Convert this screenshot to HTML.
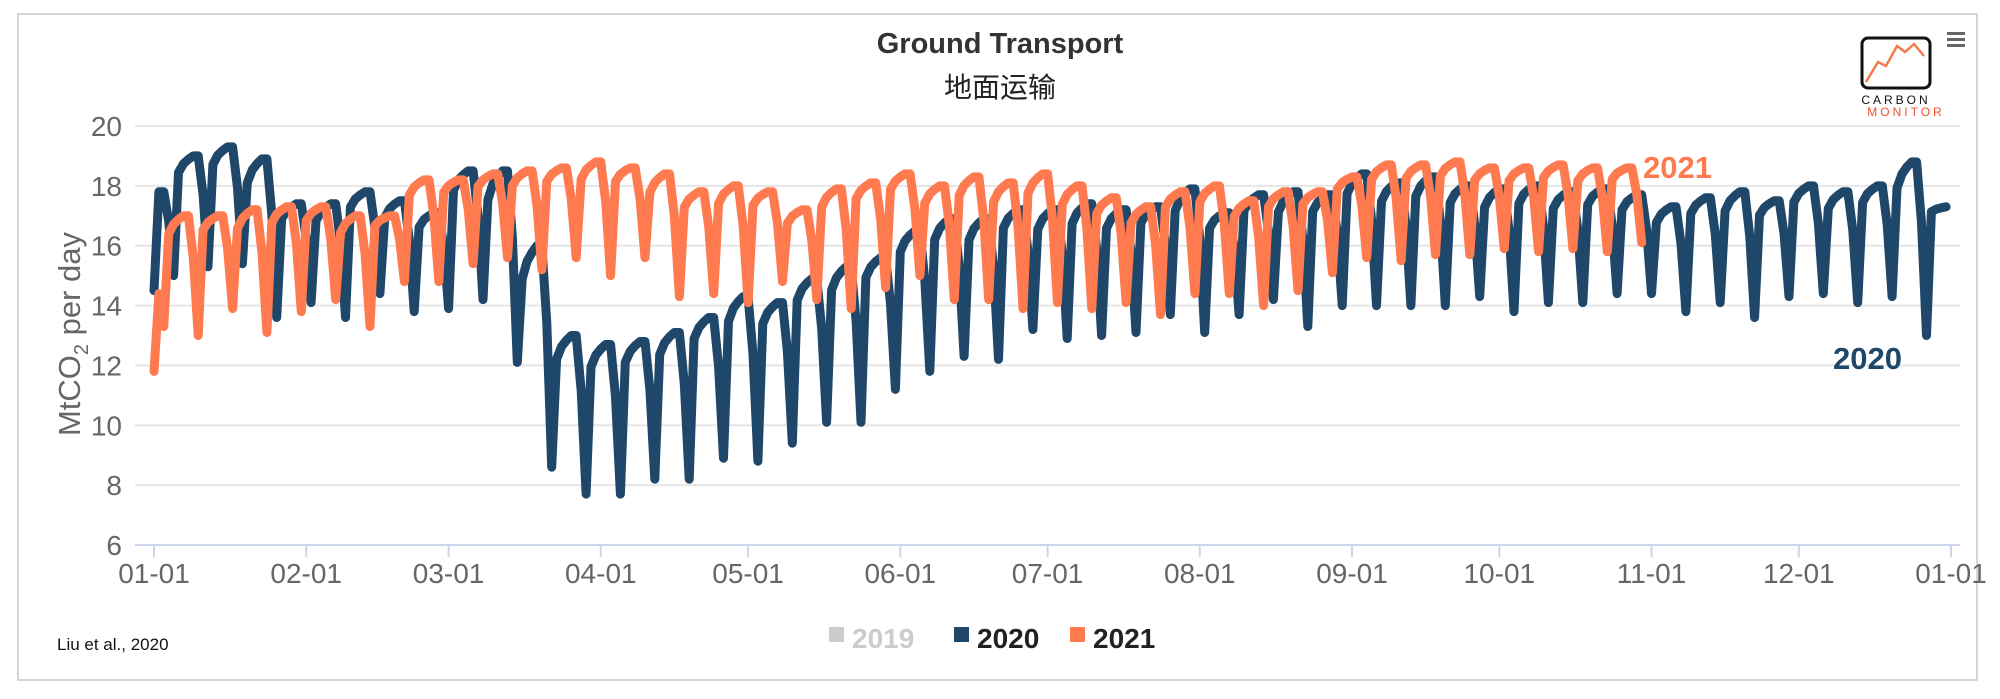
<!DOCTYPE html>
<html><head><meta charset="utf-8"><style>
html,body{margin:0;padding:0;background:#fff;}
body{width:2000px;height:694px;overflow:hidden;font-family:"Liberation Sans","Noto Sans CJK SC",sans-serif;}
</style></head><body>
<svg id="chart" width="2000" height="694" xmlns="http://www.w3.org/2000/svg" font-family="Liberation Sans, Noto Sans CJK SC, sans-serif">
<rect x="18" y="14" width="1959" height="666" fill="#fff" stroke="#d6d6d6" stroke-width="2"/>
<text x="1000" y="53" text-anchor="middle" font-size="29" font-weight="bold" fill="#333">Ground Transport</text>
<text x="1000" y="97" text-anchor="middle" font-size="28" fill="#222" font-family="Noto Sans CJK SC, sans-serif">地面运输</text>
<g>
<rect x="1862" y="38" width="68" height="50" rx="6" fill="#fff" stroke="#111" stroke-width="3"/>
<polyline points="1866,82 1878,62 1886,66 1897,46 1905,52 1914,44 1924,56" fill="none" stroke="#f47a4e" stroke-width="2.5"/>
<text x="1896" y="104" text-anchor="middle" font-size="12" letter-spacing="3" fill="#111">CARBON</text>
<text x="1906" y="116" text-anchor="middle" font-size="12" letter-spacing="3" fill="#f0502a">MONITOR</text>
</g>
<g fill="#666">
<rect x="1947" y="32" width="18" height="3"/><rect x="1947" y="38" width="18" height="3"/><rect x="1947" y="44" width="18" height="3"/>
</g>
<g id="grid"></g>
<g id="yaxis"></g>
<g id="xaxis"></g>
<text transform="translate(80,334) rotate(-90)" text-anchor="middle" font-size="31" fill="#666">MtCO<tspan font-size="20" dy="8">2</tspan><tspan dy="-8"> per day</tspan></text>
<g id="series"></g>
<text x="1643" y="178" font-size="31" font-weight="bold" fill="#ff7a4e">2021</text>
<text x="1833" y="369" font-size="31" font-weight="bold" fill="#1f4769">2020</text>
<text x="57" y="650" font-size="17" fill="#111">Liu et al., 2020</text>
<g>
<g><rect x="829" y="627" width="15" height="15" fill="#ccc"/><text x="852" y="648" font-size="28" font-weight="bold" fill="#ccc">2019</text></g>
<g><rect x="954" y="627" width="15" height="15" fill="#1f4769"/><text x="977" y="648" font-size="28" font-weight="bold" fill="#222">2020</text></g>
<g><rect x="1070" y="627" width="15" height="15" fill="#ff7a4e"/><text x="1093" y="648" font-size="28" font-weight="bold" fill="#222">2021</text></g>
</g>
</svg>
<script>
const yTicks = [6, 8, 10, 12, 14, 16, 18, 20];
const xTickLabels = ["01-01","02-01","03-01","04-01","05-01","06-01","07-01","08-01","09-01","10-01","11-01","12-01","01-01"];
const xTickDays = [0,31,60,91,121,152,182,213,244,274,305,335,366];
// 2020 weekly weekday level and Sunday low (weeks end on Sunday, first Sunday = day 4)
const hi2020 = [17.8,19.0,19.3,18.9,17.4,17.4,17.8,17.5,17.1,18.5,18.5,16.0,13.0,12.7,12.8,13.1,13.6,14.3,14.1,14.9,15.3,15.6,16.5,16.9,16.9,17.2,17.2,17.4,17.2,17.3,17.9,17.1,17.7,17.8,17.7,18.4,18.1,18.3,18.0,17.9,18.0,17.8,17.9,17.7,17.3,17.6,17.8,17.5,18.0,17.8,18.0,18.8,17.3];
const lo2020 = [15.0,15.3,15.4,13.6,14.1,13.6,14.4,13.8,13.9,14.2,12.1,8.6,7.7,7.7,8.2,8.2,8.9,8.8,9.4,10.1,10.1,11.2,11.8,12.3,12.2,13.2,12.9,13.0,13.1,13.7,13.1,13.7,14.2,13.3,14.0,14.0,14.0,14.0,14.3,13.8,14.1,14.1,14.4,14.4,13.8,14.1,13.6,14.3,14.4,14.1,14.3,13.0,16.2];
const holidays2020 = [[0,14.5]];
// 2021 weekly levels (first Sunday = day 2)
const hi2021 = [16.5,17.0,17.0,17.2,17.3,17.3,17.0,17.0,18.2,18.2,18.4,18.5,18.6,18.8,18.6,18.4,17.8,18.0,17.8,17.2,17.9,18.1,18.4,18.0,18.3,18.1,18.4,18.0,17.6,17.3,17.8,18.0,17.5,17.8,17.8,18.3,18.7,18.7,18.8,18.6,18.6,18.7,18.6,18.6];
const lo2021 = [13.3,13.0,13.9,13.1,13.8,14.2,13.3,14.8,14.8,15.4,15.6,15.2,15.6,15.0,15.6,14.3,14.4,14.1,14.8,14.2,13.9,14.6,15.0,14.2,14.2,13.9,14.1,13.9,14.1,13.7,14.4,14.4,14.0,14.5,15.1,15.6,15.5,15.7,15.7,15.9,15.8,15.9,15.8,16.1];
const holidays2021 = [[0,11.8],[1,14.4]];

const X0=154, X1=1951, NDAYS=366, Y6=545, Y20=126;
const xs = d => X0 + (X1-X0)*d/NDAYS;
const ys = v => Y6 - (v-6)*(Y6-Y20)/14;
const NS="http://www.w3.org/2000/svg";
function mk(tag, attrs, parent){const e=document.createElementNS(NS,tag);for(const k in attrs)e.setAttribute(k,attrs[k]);parent.appendChild(e);return e;}
// relative position within a week (Mon..Sun) between low (0) and high (1)
const shape = [0.85, 0.93, 0.97, 1.0, 1.0, 0.65, 0];

function expand(hi, lo, firstSun, lastDay, hol){
  const v=[];
  for(let k=0;k<hi.length;k++){
    const sun=firstSun+7*k;
    for(let i=0;i<7;i++){
      const d=sun-6+i;
      if(d<0||d>lastDay) continue;
      v[d]=lo[k]+shape[i]*(hi[k]-lo[k]);
    }
  }
  if(v.length-1>lastDay) v.length=lastDay+1;
  if(v[lastDay]===undefined) v[lastDay]=lo[lo.length-1];
  hol.forEach(h=>{v[h[0]]=h[1];});
  return v;
}

const grid=document.getElementById('grid');
const yax=document.getElementById('yaxis');
yTicks.forEach(t=>{
  const l=mk('line',{x1:135,x2:1960,y1:ys(t),y2:ys(t),stroke:t===6?'#ccd6eb':'#e6e6e6','stroke-width':2},grid);
  
  
  const tx=mk('text',{x:122,y:ys(t)+10,'text-anchor':'end','font-size':28,fill:'#666'},yax);
  tx.textContent=t;
  
  
});
const xax=document.getElementById('xaxis');
xTickDays.forEach((d,i)=>{
  const l=mk('line',{x1:xs(d),x2:xs(d),y1:545,y2:557,stroke:'#ccd6eb','stroke-width':2},xax);
  
  
  const tx=mk('text',{x:xs(d),y:583,'text-anchor':'middle','font-size':28,fill:'#666'},xax);
  tx.textContent=xTickLabels[i];
  
  
});

const s2020=expand(hi2020,lo2020,4,365,holidays2020);
const s2021=expand(hi2021,lo2021,2,303,holidays2021);
const ser=document.getElementById('series');
[[s2020,'#1f4769','line-2020'],[s2021,'#ff7a4e','line-2021']].forEach(([arr,col,name])=>{
  const pts=[];arr.forEach((v,d)=>{if(v!==undefined)pts.push(xs(d).toFixed(1)+','+ys(v).toFixed(1));});
  const p=mk('polyline',{points:pts.join(' '),fill:'none',stroke:col,'stroke-width':9,'stroke-linejoin':'round','stroke-linecap':'round'},ser);
  
  
});
</script>
</body></html>
